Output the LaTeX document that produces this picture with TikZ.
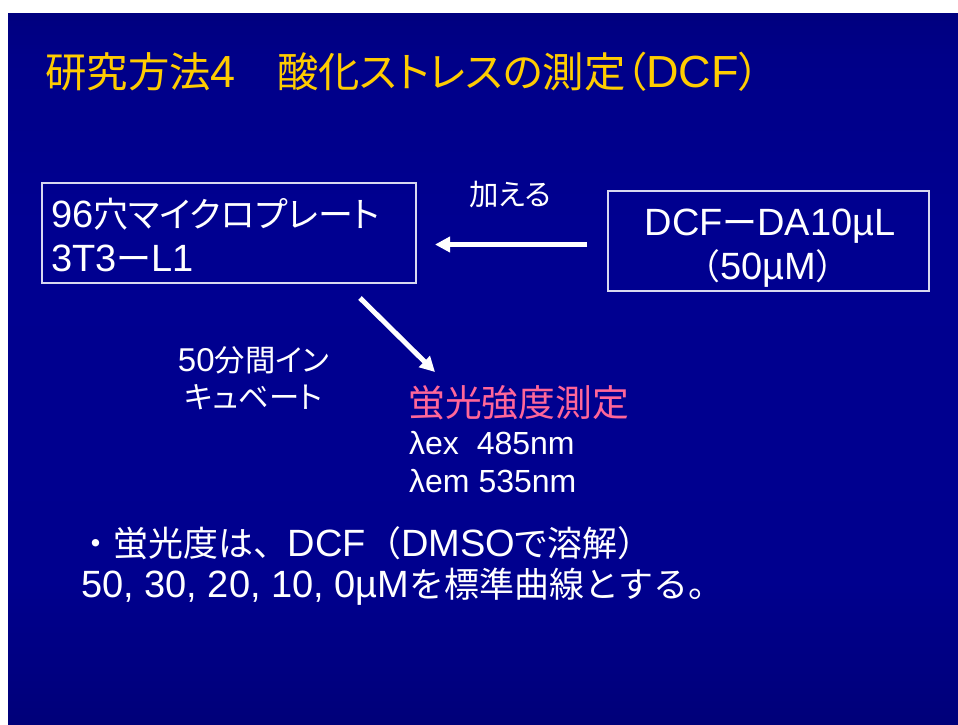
\documentclass[tikz,border=0pt]{standalone}
\usepackage{fontspec}
\setmainfont{Liberation Sans}
\newfontfamily\jp[Scale=0.92,RawFeature=+palt]{Noto Sans CJK JP}
\newfontfamily\jpf[Scale=0.92]{Noto Sans CJK JP}
\newcommand{\J}[1]{{\jp #1}}
\newcommand{\JF}[1]{{\jpf #1}}
\usetikzlibrary{arrows.meta}
\definecolor{ttl}{HTML}{FFCC00}
\definecolor{pinkt}{HTML}{FF6699}
\definecolor{boxline}{HTML}{D8D8F0}
\pgfdeclareverticalshading{slidebg}{100bp}{%
  rgb(0bp)=(0,0,0.275);
  rgb(8bp)=(0,0,0.320);
  rgb(15bp)=(0,0,0.370);
  rgb(22bp)=(0,0,0.450);
  rgb(35bp)=(0,0,0.557);
  rgb(60bp)=(0,0,0.565);
  rgb(72bp)=(0,0,0.533);
  rgb(80bp)=(0,0,0.439);
  rgb(88bp)=(0,0,0.345);
  rgb(100bp)=(0,0,0.314)}
\newcommand{\fs}[1]{\fontsize{#1}{#1}\selectfont}
\begin{document}
\begin{tikzpicture}[x=1pt,y=-1pt,
  txt/.style={text=white, inner sep=0pt, anchor=base west},
  ctxt/.style={text=white, inner sep=0pt, anchor=base},
  framebox/.style={draw=boxline, line width=1.2pt, inner sep=0pt},
  arr/.style={draw=white, line width=5pt, -{Triangle[length=15pt,width=15pt]}}]
\useasboundingbox (0,0) rectangle (958,724);
\fill[white] (0,0) rectangle (958,724);
\shade[shading=slidebg] (8,13) rectangle (958,724);

% title
\node[txt, text=ttl, font=\fs{45}] (title) at (45,87)
  {\J{研究方法}4\J{　酸化ストレスの測定（}DCF\J{）}};

% boxes
\node[framebox, minimum width=374pt, minimum height=100pt] (b1) at (229,233) {};
\node[framebox, minimum width=321pt, minimum height=100pt] (b2) at (768.5,241) {};

\node[txt, font=\fs{38}] (b1l1) at (51,227) {96\J{穴マイクロプレート}};
\node[txt, font=\fs{38}] (b1l2) at (51,271) {3T3\J{ー}L1};

\node[ctxt, font=\fs{38}] (b2l1) at (770,235) {DCF\J{ー}DA10µL};
\node[ctxt, font=\fs{38}] (b2l2) at (768,279) {\JF{（}50µM\JF{）}};

% add label
\node[txt, font=\fs{32}] (add) at (469,205) {\J{加える}};

% arrows
\coordinate (h1) at (587,244.5);
\coordinate (h2) at (435,244.5);
\draw[arr] (h1) -- (h2);
\coordinate (d1) at (360,298);
\coordinate (d2) at (435,372);
\draw[arr] (d1) -- (d2);

% incubation
\node[ctxt, font=\fs{33}] (inc1) at (253.5,371) {50\J{分間イン}};
\node[ctxt, font=\fs{33}] (inc2) at (253.5,408) {\J{キュベート}};

% measurement
\node[txt, text=pinkt, font=\fs{40}] (meas) at (408,416) {\J{蛍光強度測定}};
\node[txt, font=\fs{32}] (ex) at (409,454) {λex~~485nm};
\node[txt, font=\fs{32}] (em) at (409,492) {λem 535nm};

% bottom
\node[txt, font=\fs{38}] (n1) at (78,556) {\JF{・}\J{蛍光度は}\JF{、}DCF\JF{（}DMSO\J{で溶解}\JF{）}};
\node[txt, font=\fs{38}] (n2) at (81,597) {50, 30, 20, 10, 0µM\JF{を標準曲線とする。}};
\end{tikzpicture}
\end{document}
